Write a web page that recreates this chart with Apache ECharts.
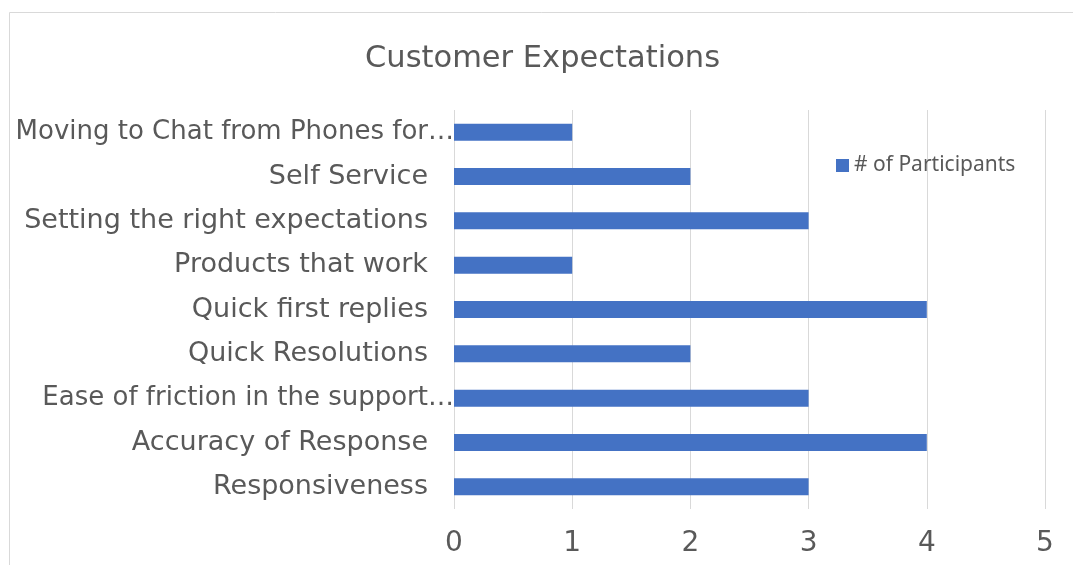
<!DOCTYPE html>
<html>
<head>
<meta charset="utf-8">
<script src="https://cdn.jsdelivr.net/npm/echarts@6/dist/echarts.min.js"></script>
<style>html,body{margin:0;padding:0;background:#fff;}#c{width:1073px;height:565px;}</style>
</head>
<body>
<div id="c"></div>
<script>
const titleText = 'Customer Expectations';
const seriesName = '# of Participants';
const categories = [
  'Moving to Chat from Phones for…',
  'Self Service',
  'Setting the right expectations',
  'Products that work',
  'Quick first replies',
  'Quick Resolutions',
  'Ease of friction in the support…',
  'Accuracy of Response',
  'Responsiveness'
];
const participants = [1, 2, 3, 1, 4, 2, 3, 4, 3];
const xTicks = [0, 1, 2, 3, 4, 5];

const chart = echarts.init(document.getElementById('c'));
chart.setOption({
  animation: false,
  backgroundColor: '#fff',
  title: {
    text: titleText,
    left: 365,
    top: 44,
    padding: 0,
    textStyle: { fontFamily: 'DejaVu Sans', fontSize: 30.5, fontWeight: 'normal', color: '#595959' }
  },
  legend: {
    data: [seriesName],
    left: 831,
    top: 150,
    icon: 'rect',
    itemWidth: 13,
    itemHeight: 13,
    itemGap: 5,
    textStyle: { fontFamily: 'Noto Sans', fontSize: 21, color: '#595959', padding: [0, 0, 0, 0] }
  },
  graphic: [{
    type: 'rect',
    shape: { x: 9.5, y: 12.5, width: 1200, height: 700 },
    style: { fill: 'none', stroke: '#d9d9d9', lineWidth: 1 },
    silent: true
  }],
  grid: { left: 454, right: 28, top: 110, bottom: 56, containLabel: false },
  xAxis: {
    type: 'value',
    min: xTicks[0],
    max: xTicks[xTicks.length - 1],
    interval: 1,
    axisLine: { show: false },
    axisTick: { show: false },
    splitLine: { lineStyle: { color: '#d9d9d9', width: 1 } },
    axisLabel: { margin: 21, fontFamily: 'DejaVu Sans', fontSize: 28, color: '#595959' }
  },
  yAxis: {
    type: 'category',
    data: categories,
    inverse: true,
    axisLine: { show: false },
    axisTick: { show: false },
    axisLabel: {
      margin: 0,
      fontFamily: 'DejaVu Sans',
      fontSize: 27,
      color: '#595959',
      formatter: function (v) {
        return v.endsWith('…') ? '{b|' + v + '}' : '{a|' + v + '}';
      },
      rich: {
        a: { fontFamily: 'DejaVu Sans', fontSize: 27, color: '#595959', padding: [0, 26, 0, 0] },
        b: { fontFamily: 'DejaVu Sans', fontSize: 26, color: '#595959', padding: [0, 0, 0, 0] }
      }
    }
  },
  series: [{
    name: seriesName,
    type: 'bar',
    data: participants,
    barWidth: 17,
    itemStyle: { color: '#4472c4' }
  }]
});
</script>
</body>
</html>
